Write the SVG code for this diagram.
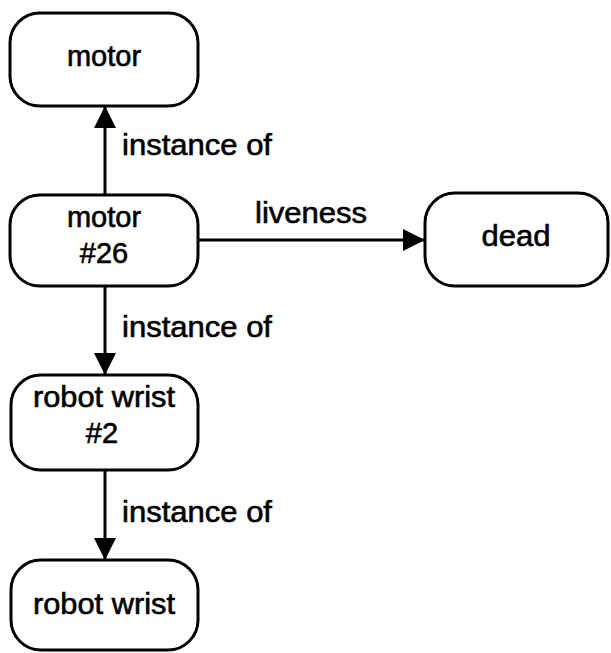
<svg xmlns="http://www.w3.org/2000/svg" width="611" height="653" viewBox="0 0 611 653">
<style>
.box{fill:#fff;stroke:#000;stroke-width:3}
.t{font-family:"Liberation Sans",Arial,sans-serif;font-size:29px;fill:#000;stroke:#000;stroke-width:0.6;text-anchor:middle}
.l{font-family:"Liberation Sans",Arial,sans-serif;font-size:29px;fill:#000;stroke:#000;stroke-width:0.6}
.c{stroke:#000;stroke-width:3;fill:none;marker-end:url(#ah)}
</style>
<defs>
<marker id="ah" markerUnits="userSpaceOnUse" markerWidth="23" markerHeight="22" refX="22" refY="11" orient="auto" viewBox="0 0 23 22">
<path d="M0,0 L22,11 L0,22 z" fill="#000"/>
</marker>
</defs>
<rect width="611" height="653" fill="#fff"/>
<g id="connectors">
<line class="c" x1="105" y1="195" x2="105" y2="106"/>
<line class="c" x1="198" y1="240" x2="425" y2="240"/>
<line class="c" x1="105" y1="286" x2="105" y2="375"/>
<line class="c" x1="105" y1="470" x2="105" y2="560"/>
<text class="l" x="122" y="155" textLength="150" lengthAdjust="spacingAndGlyphs">instance of</text>
<text class="l" x="255" y="223" textLength="112" lengthAdjust="spacingAndGlyphs">liveness</text>
<text class="l" x="122" y="337" textLength="150" lengthAdjust="spacingAndGlyphs">instance of</text>
<text class="l" x="122" y="522" textLength="150" lengthAdjust="spacingAndGlyphs">instance of</text>
</g>
<g id="motor">
<rect class="box" x="10" y="13" width="188" height="93" rx="30" ry="30"/>
<text class="t" x="104" y="66">motor</text>
</g>
<g id="motor26">
<rect class="box" x="10" y="195" width="188" height="91" rx="30" ry="30"/>
<text class="t" x="104" y="227">motor</text>
<text class="t" x="104" y="263">#26</text>
</g>
<g id="dead">
<rect class="box" x="425" y="193" width="183" height="93" rx="30" ry="30"/>
<text class="t" x="516" y="246" textLength="69" lengthAdjust="spacingAndGlyphs">dead</text>
</g>
<g id="robotwrist2">
<rect class="box" x="11" y="375" width="187" height="95" rx="30" ry="30"/>
<text class="t" x="104" y="407" textLength="142" lengthAdjust="spacingAndGlyphs">robot wrist</text>
<text class="t" x="102" y="443">#2</text>
</g>
<g id="robotwrist">
<rect class="box" x="11" y="560" width="187" height="90" rx="30" ry="30"/>
<text class="t" x="104" y="614" textLength="142" lengthAdjust="spacingAndGlyphs">robot wrist</text>
</g>
</svg>
